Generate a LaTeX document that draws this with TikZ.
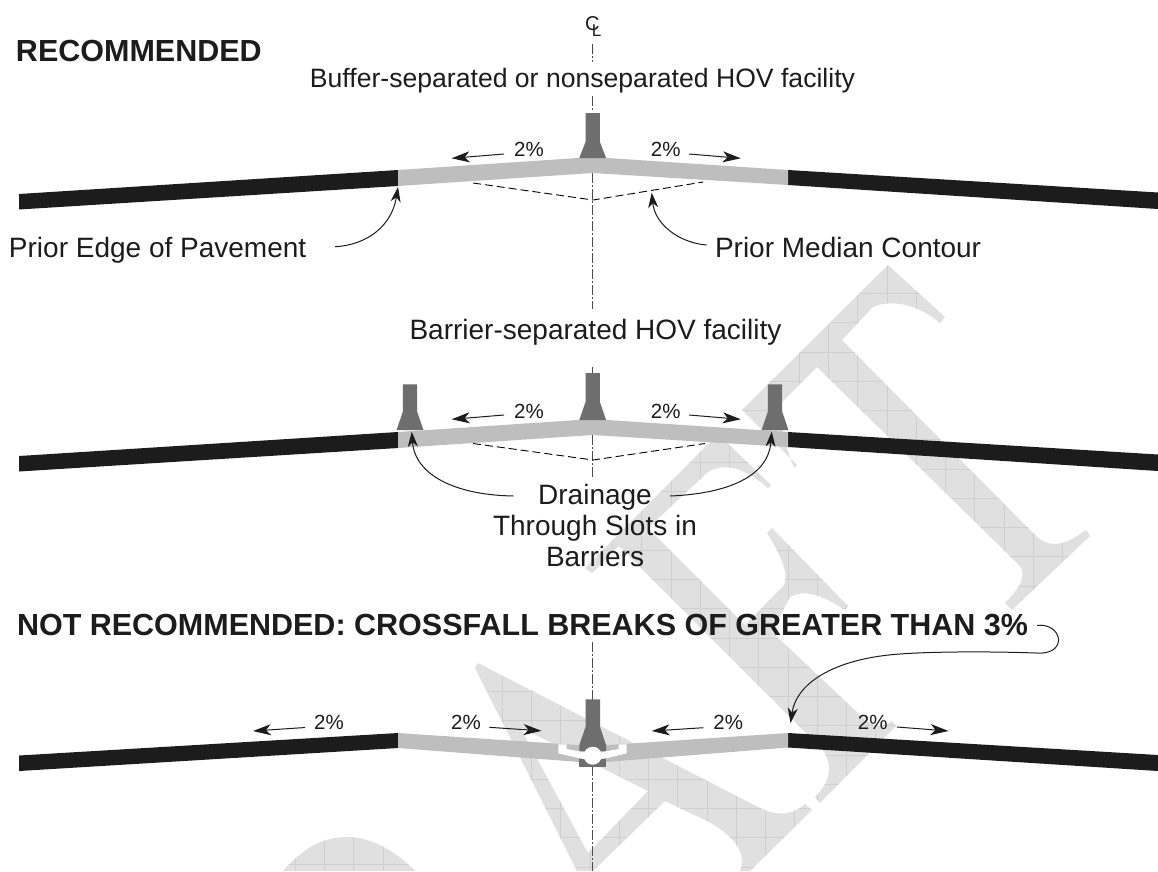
\documentclass[tikz,border=0pt]{standalone}
\usepackage{fontspec}
\setmainfont{Liberation Sans}
\usetikzlibrary{arrows.meta}
\definecolor{ink}{HTML}{1C1C1C}
\definecolor{roadgray}{HTML}{BEBEBE}
\definecolor{barriergray}{HTML}{6E6E6E}
\definecolor{wmcolor}{HTML}{E0E0E0}
\definecolor{wmline}{HTML}{CFCFCF}
\newcommand{\wmark}[3]{%
  \fill[wmcolor,even odd rule] #1;
  \begin{scope}[even odd rule]
    \clip #1;
    \foreach \k in {-32,...,32}{
      \draw[wmline,line width=0.6pt] ({#2+\k*29.25},0) -- ({#2+\k*29.25},871);
      \draw[wmline,line width=0.6pt] (0,{#3+\k*29.25}) -- (1158,{#3+\k*29.25});
    }
  \end{scope}}
% name, text x, text y, from x, from y, tip x, tip y
\newcommand{\slopelabel}[7]{%
  \node[slopetext] (#1) at (#2,#3) {2\%};
  \coordinate (#1a) at (#4,#5);
  \coordinate (#1b) at (#6,#7);
  \draw[thinarrow] (#1a) -- (#1b);}
% name, y shift
\newcommand{\roadrow}[2]{%
  \begin{scope}[yshift=-#2pt]
    \fill[ink] (19,194) -- (398,170) -- (398,186) -- (19,209.5) -- cycle;
    \fill[ink] (1158,192.5) -- (788,170) -- (788,185) -- (1158,209) -- cycle;
    \fill[roadgray] (398,170) -- (592.7,157) -- (788,170) -- (788,185) -- (592.7,173) -- (398,186) -- cycle;
  \end{scope}}
\newcommand{\barrier}[4]{% centre x, top y, neck y, base y
  \fill[barriergray] ({#1-7.2},#2) -- ({#1+7.2},#2) -- ({#1+7.2},#3) -- ({#1+13.4},#4) -- ({#1-13.4},#4) -- ({#1-7.2},#3) -- cycle;}
\tikzset{
  x=1pt,y=-1pt,
  plaintext/.style={inner sep=0pt,outer sep=0pt,text=ink,font=\fontsize{28}{31}\selectfont},
  headtext/.style={inner sep=0pt,outer sep=0pt,text=ink,anchor=base west,font=\bfseries\fontsize{30.5}{34}\selectfont},
  slopetext/.style={inner sep=0pt,outer sep=0pt,text=ink,font=\fontsize{20.5}{24}\selectfont},
  thinarrow/.style={draw=ink,line width=1pt,-{Stealth[length=18pt,width=11pt,inset=5pt]}},
  callout/.style={draw=ink,line width=1pt,-{Stealth[length=15pt,width=10pt,inset=4.5pt]}},
  centerline/.style={draw=black!70,line width=0.9pt,dash pattern=on 10pt off 2pt on 2pt off 2pt},
  priorline/.style={draw=black,line width=0.9pt,dash pattern=on 8pt off 4pt},
}
\begin{document}
\begin{tikzpicture}
\useasboundingbox (0,0) rectangle (1158,871);
\fill[white] (0,0) rectangle (1158,871);

% watermark letters
\wmark{(888,265) -- (945,317) -- (940,323) .. controls (920,306) and (893,298) .. (873,307) -- (842,340) -- (1033,533) .. controls (1047,548) and (1062,548) .. (1086,530) -- (1090,536) -- (1012,610) -- (1005,603) .. controls (1022,586) and (1028,572) .. (1017,563) -- (817,367) -- (782,402) .. controls (778,420) and (785,445) .. (794,468) -- (797,465) -- (742,410) -- cycle}{828.3}{293.3}
\wmark{(718,434) -- (771,485) -- (768,488) .. controls (745,468) and (725,462) .. (708,472) -- (648,528) -- (670,550) -- (745,625) -- (784,585) .. controls (788,575) and (784,560) .. (767,533) -- (772,528) -- (848,606) -- (845,610) .. controls (825,597) and (805,588) .. (790,597) -- (772,632) -- (860,715) .. controls (870,725) and (880,730) .. (892,721) -- (896,726) -- (820,803) -- (815,797) .. controls (832,780) and (832,765) .. (823,750) -- (643,570) .. controls (630,557) and (625,552) .. (619,546) -- (592,573) -- (585,568) -- cycle}{671}{579.3}
\wmark{(475,668) -- (478,663) -- (688,771) -- (760,808) .. controls (772,814) and (790,818) .. (805,804) -- (812,810) -- (750,871) -- (740,871) .. controls (746,855) and (738,838) .. (707,821) -- (665,801) -- (593,871) -- (577,871) -- cycle (520,727) -- (648,791) -- (588,853) -- cycle}{648.3}{808.3}
\wmark{(283,871) .. controls (305,846) and (325,837) .. (347,837) .. controls (370,837) and (395,850) .. (415,871) -- cycle}{324.3}{864}

% centre line
\coordinate (cla) at (592.5,44);   \coordinate (clb) at (592.7,62);
\coordinate (clc) at (592.7,96);   \coordinate (cld) at (592.7,111);
\coordinate (cle) at (592.7,173);  \coordinate (clf) at (592.7,309);
\coordinate (clg) at (592.7,367);  \coordinate (clh) at (592.7,375);
\coordinate (cli) at (592.7,435);  \coordinate (clj) at (592.7,478);
\coordinate (clk) at (592.7,642);  \coordinate (cll) at (592.7,700);
\coordinate (clm) at (592.7,766);  \coordinate (cln) at (592.7,871);
\draw[centerline] (cla)--(clb);
\draw[centerline] (clc)--(cld);
\draw[centerline] (cle)--(clf);
\draw[draw=black!70,line width=0.9pt] (clg)--(clh);
\draw[centerline] (cli)--(clj);
\draw[centerline] (clk)--(cll);
\draw[centerline] (clm)--(cln);
\node[inner sep=0pt,text=ink,anchor=base west,font=\fontsize{20}{20}\selectfont] (clsym) at (585,30) {C\kern-7.7pt\raisebox{-6pt}{\fontsize{17}{17}\selectfont L}};

% top section
\roadrow{top}{0}
\barrier{592.7}{113}{142}{158}
\coordinate (da) at (473,183); \coordinate (db) at (593,200); \coordinate (dc) at (703,182);
\draw[priorline] (da)--(db)--(dc);

% middle section
\roadrow{mid}{262}
\barrier{592.7}{373}{402}{420}
\barrier{410}{384.3}{411.7}{430}
\barrier{775}{384.3}{411.7}{430}
\coordinate (ma) at (473,443.5); \coordinate (mb) at (593,460); \coordinate (mc) at (705,443.5);
\draw[priorline] (ma)--(mb)--(mc);

% bottom section
\fill[ink] (19,755.5) -- (398,733) -- (398,748) -- (19,771) -- cycle;
\fill[ink] (1158,755) -- (788,733) -- (788,747.5) -- (1158,771) -- cycle;
\fill[roadgray] (398,733) -- (592.7,746) -- (592.7,763) -- (398,748) -- cycle;
\fill[roadgray] (788,733) -- (592.7,746) -- (592.7,763) -- (788,747.5) -- cycle;
\fill[barriergray] (585.5,699.3) -- (600,699.3) -- (600,727) -- (606,745) -- (606,751) -- (579.3,751) -- (579.3,745) -- (585.5,727) -- cycle;
\fill[barriergray] (579.3,758) rectangle (606,766.7);
\fill[white] (558.3,744.3) -- (566.7,744.3) -- (566.7,749) -- (580,751.5) -- (592,754) -- (592,760) -- (580,758.5) -- (558.3,753.3) -- cycle;
\fill[white] (626.7,744.3) -- (618.7,744.3) -- (618.7,749) -- (605.4,751.5) -- (593,754) -- (593,760) -- (605.4,758.5) -- (626.7,753.3) -- cycle;
\fill[white] (592.7,755.7) circle[radius=9];

% slope labels
\slopelabel{s1}{529}{149}{504}{154}{451.7}{158.3}
\slopelabel{s2}{665.7}{149}{689}{154}{740.7}{158.3}
\slopelabel{s3}{529}{411}{504}{415}{451.7}{419.3}
\slopelabel{s4}{665.7}{411}{689}{415}{740.7}{419.3}
\slopelabel{s5}{329}{722.3}{305}{727.5}{253}{731}
\slopelabel{s6}{466}{722.3}{489.3}{727.3}{541.5}{730.8}
\slopelabel{s7}{728.3}{722.3}{703.3}{727.7}{651.7}{731}
\slopelabel{s8}{872.8}{722.3}{897}{727}{948.5}{731}

% headings and labels
\node[headtext] (rec) at (16,61) {RECOMMENDED};
\node[headtext] (notrec) at (17,635) {NOT RECOMMENDED: CROSSFALL BREAKS OF GREATER THAN 3\%};
\node[plaintext,font=\fontsize{26.6}{31}\selectfont,anchor=base] (buffer) at (582.5,87.5) {Buffer-separated or nonseparated HOV facility};
\node[plaintext,anchor=base] (barr) at (595.5,339) {Barrier-separated HOV facility};
\node[plaintext,anchor=base west] (edge) at (9,257) {Prior Edge of Pavement};
\node[plaintext,anchor=base west] (median) at (715,257) {Prior Median Contour};
\node[plaintext,align=center,anchor=center] (drain) at (595,525) {Drainage\\Through Slots in\\Barriers};

% callouts
\coordinate (edgea) at (335,246.7); \coordinate (edgeb) at (398,187);
\draw[callout] (edgea) .. controls (368,245) and (392,225) .. (edgeb);
\coordinate (meda) at (706.7,245); \coordinate (medb) at (651.7,192.7);
\draw[callout] (meda) .. controls (680,243) and (655,225) .. (medb);
\coordinate (dla) at (513.3,496); \coordinate (dlb) at (411.7,431.7);
\draw[callout] (dla) .. controls (455,495) and (415,475) .. (dlb);
\coordinate (dra) at (670,496); \coordinate (drb) at (771.7,431.7);
\draw[callout] (dra) .. controls (720,494) and (768,480) .. (drb);
\coordinate (cfa) at (1037,625.4); \coordinate (cfb) at (1058.6,640); \coordinate (cfc) at (1036,653); \coordinate (cfd) at (790.5,723);
\draw[callout] (cfa) .. controls (1048,624) and (1058,630) .. (cfb) .. controls (1058,650) and (1048,654) .. (cfc) .. controls (980,651) and (925,652) .. (900,654) .. controls (840,658) and (797,680) .. (cfd);
\end{tikzpicture}
\end{document}
